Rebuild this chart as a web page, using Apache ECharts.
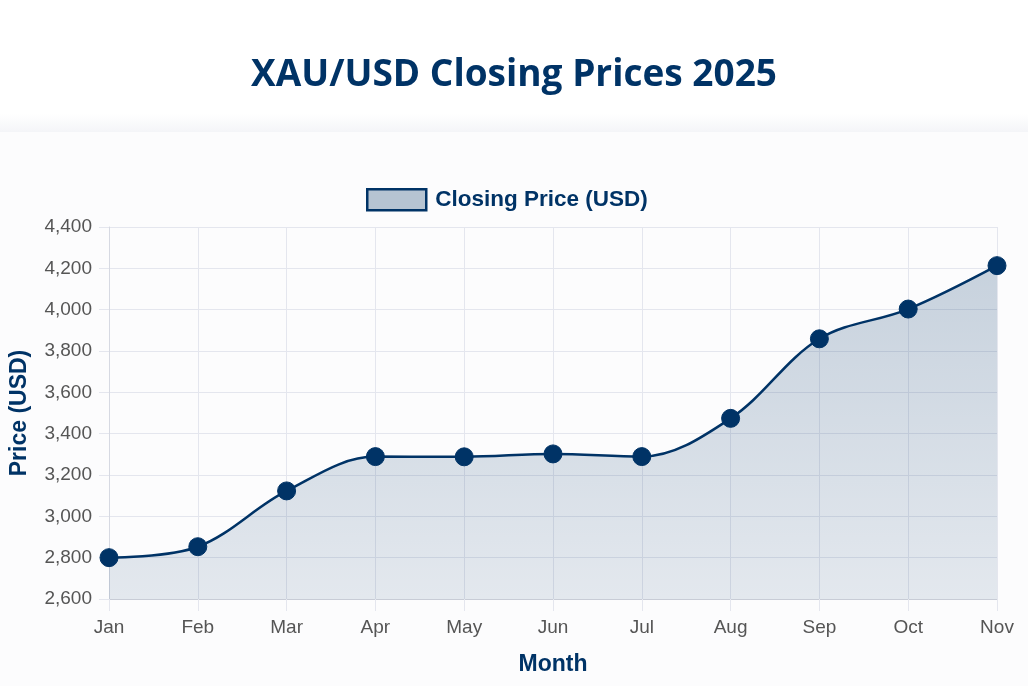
<!DOCTYPE html>
<html>
<head>
<meta charset="utf-8">
<script src="https://cdn.jsdelivr.net/npm/echarts@6/dist/echarts.min.js"></script>
<style>
html,body{margin:0;padding:0;background:#ffffff;}
#chart{width:1028px;height:686px;}
</style>
</head>
<body>
<div id="chart"></div>
<script>
const months = ['Jan','Feb','Mar','Apr','May','Jun','Jul','Aug','Sep','Oct','Nov'];
const closingPrices = [2800, 2853, 3123, 3289, 3288, 3302, 3289, 3474, 3859, 4003, 4213];
const seriesName = 'Closing Price (USD)';
const yMin = 2600, yMax = 4400, yStep = 200;

const chart = echarts.init(document.getElementById('chart'), null, {renderer:'canvas'});
const navy = '#003366';
chart.setOption({
  animation: false,
  backgroundColor: '#ffffff',
  graphic: [
    {type:'rect', shape:{x:0,y:114,width:1028,height:18}, style:{fill:new echarts.graphic.LinearGradient(0,0,0,1,[{offset:0,color:'#ffffff'},{offset:1,color:'#f4f5f8'}])}, z:-10},
    {type:'rect', shape:{x:0,y:132,width:1028,height:554}, style:{fill:'#fcfcfd'}, z:-10}
  ],
  title: {
    text: 'XAU/USD Closing Prices 2025',
    left: 'center', top: 52,
    textStyle: {fontFamily:'Open Sans', fontWeight:'bold', fontSize:37, color:navy}
  },
  legend: {
    top: 183, left: 361,
    itemWidth: 59, itemHeight: 21, itemGap: 10,
    data: [{name: seriesName, icon: 'rect', itemStyle:{color:'rgba(0,51,102,0.28)', borderColor:navy, borderWidth:2.5}}],
    textStyle: {fontFamily:'Liberation Sans', fontWeight:'bold', fontSize:22.5, color:navy, padding:[0,0,0,4]}
  },
  grid: {left:109, right:31, top:227, bottom:87, containLabel:false, outerBoundsMode:'none'},
  xAxis: {
    type:'category', data: months, boundaryGap:false,
    name:'Month', nameLocation:'middle', nameGap:54,
    nameTextStyle:{fontFamily:'Liberation Sans', fontWeight:'bold', fontSize:23, color:navy},
    axisLine:{show:true, lineStyle:{color:'#c8ccd6', width:1}},
    axisTick:{show:true, alignWithLabel:true, length:12, lineStyle:{color:'#e4e6ee'}},
    axisLabel:{fontFamily:'Liberation Sans', fontSize:19, color:'#555555', margin:19},
    splitLine:{show:true, lineStyle:{color:'#e4e6ee', width:1}}
  },
  yAxis: {
    type:'value', min:yMin, max:yMax, interval:yStep,
    name:'Price (USD)', nameLocation:'middle', nameGap:78, nameRotate:90,
    nameTextStyle:{fontFamily:'Liberation Sans', fontWeight:'bold', fontSize:23, color:navy},
    axisLine:{show:true, lineStyle:{color:'#d6d9e2', width:1}},
    axisTick:{show:true, length:10, lineStyle:{color:'#e4e6ee'}},
    axisLabel:{fontFamily:'Liberation Sans', fontSize:19, color:'#555555', margin:17,
      formatter: v => v.toLocaleString('en-US')},
    splitLine:{show:true, lineStyle:{color:'#e4e6ee', width:1}}
  },
  series: [{
    name: seriesName, type:'line', data: closingPrices,
    smooth: 0.35,
    symbol:'circle', symbolSize:18,
    itemStyle:{color:navy, borderColor:navy},
    lineStyle:{color:navy, width:2.5},
    areaStyle:{color:new echarts.graphic.LinearGradient(0,0,0,1,[
      {offset:0,color:'rgba(0,51,102,0.30)'},
      {offset:1,color:'rgba(0,51,102,0.14)'}
    ])}
  }]
});
</script>
</body>
</html>
